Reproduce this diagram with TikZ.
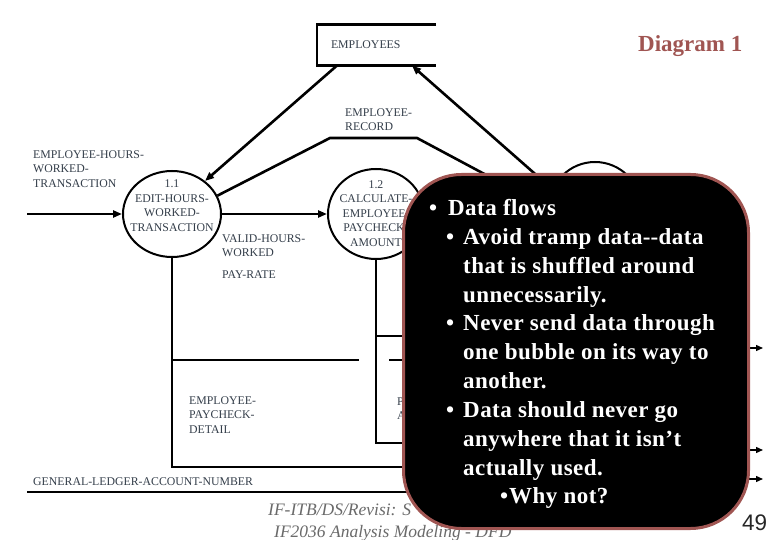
\documentclass[tikz,border=0pt]{standalone}
\usepackage{fontspec}
\setmainfont{Liberation Serif}
\newfontfamily\numfont{Liberation Sans}
\usepackage{tikz}
\usetikzlibrary{arrows.meta,shapes.geometric,calc}
\definecolor{inkx}{HTML}{343E4A}
\definecolor{rustx}{HTML}{A05552}
\definecolor{footx}{HTML}{6A6A6A}
\newcommand{\blt}[1]{\makebox[#1pt][l]{\textbullet}}

\begin{document}
\begin{tikzpicture}[x=1pt, y=-1pt,
  bub/.style={draw, ellipse, line width=2pt, inner sep=0pt},
  lbl/.style={font=\fontsize{11.8}{14.5}\selectfont, text=inkx, align=left, inner sep=0pt, anchor=north west},
  ctr/.style={lbl, align=center, anchor=north},
  flow/.style={line width=2.6pt},
  thinflow/.style={line width=2pt},
  arr/.style={-{Triangle[length=9pt,width=7pt]}},
  note/.style={fill=black, draw=rustx, line width=3pt, rounded corners=58pt, inner sep=0pt},
  notetxt/.style={font=\fontsize{23}{29}\selectfont\bfseries\addfontfeature{LetterSpace=2}, text=white, inner sep=0pt, anchor=base west}]
\useasboundingbox[fill=white] (0,0) rectangle (780,540);
% store and bubbles
\node[minimum width=119pt, minimum height=41pt, inner sep=0pt] (emp) at (376.5,45) {};
\draw[flow] (emp.north east) -- (emp.north west) -- (emp.south west) -- (emp.south east);
\node[lbl, anchor=west] (empt) at ([xshift=14pt]emp.west) {EMPLOYEES};
\node[bub, minimum width=98pt, minimum height=86pt] (p11) at (172,214) {};
\node[bub, minimum width=96pt, minimum height=90pt] (p12) at (376,214) {};
\node[bub, minimum size=92pt] (p13) at (595,208) {};
\node[ctr] (p11t) at (172,180) {1.1\\EDIT-HOURS-\\WORKED-\\TRANSACTION};
\node[ctr] (p12t) at (376,180) {1.2\\CALCULATE-\\EMPLOYEE-\\PAYCHECK-\\AMOUNT};
% flows
\coordinate (src) at (27,214);
\draw[flow, arr] (src) -- (p11.west);
\draw[flow, arr] (p11.east) -- (p12.west);
\draw[flow, arr] ([xshift=20pt]emp.south west) -- (p11.45);
\draw[flow, arr] (p13.156) -- ([xshift=35.5pt]emp.south);
\coordinate (r1) at (330,138); \coordinate (r2) at (417,138);
\draw[flow] (p11.22) -- (r1) -- (r2) -- (p13.west);
% stems down to the lower flows
\coordinate (d1) at (415,467); \coordinate (d2) at (415,360);
\coordinate (h1) at (359,360); \coordinate (h2) at (389,360);
\coordinate (d3) at (415,443); \coordinate (d4) at (415,336);
\draw[flow] (p11.south) |- (d1);
\draw[thinflow] (p11.south |- h1) -- (h1); \draw[thinflow] (h2) -- (d2);
\draw[flow] (p12.south) |- (d3);
\draw[thinflow] (p12.south |- d4) -- (d4);
\coordinate (gl1) at (27,492); \coordinate (gl2) at (415,492);
\draw[flow] (gl1) -- (gl2);
\foreach \yy [count=\k] in {348,450,479} {
  \coordinate (o\k) at (740,\yy); \coordinate (e\k) at (763,\yy);
  \draw[line width=1.4pt, -{Triangle[length=7pt,width=6pt]}] (o\k) -- (e\k);
}
% labels
\node[lbl] (inlbl) at (33,150) {EMPLOYEE-HOURS-\\WORKED-\\TRANSACTION};
\node[lbl] (vhw) at (222,234) {VALID-HOURS-\\WORKED};
\node[lbl] (pr) at (222,271) {PAY-RATE};
\node[lbl] (rec) at (345,108) {EMPLOYEE-\\RECORD};
\node[lbl] (epd) at (189,396) {EMPLOYEE-\\PAYCHECK-\\DETAIL};
\node[lbl] (pam) at (397,397) {PAYCHECK-\\AMOUNT};
\node[lbl] (gla) at (33,477) {GENERAL-LEDGER-ACCOUNT-NUMBER};
\node[font=\fontsize{23}{28}\selectfont\bfseries, text=rustx, anchor=base west, inner sep=0pt] (ttl) at (638,52) {Diagram 1};
\node[font=\fontsize{17.5}{22}\selectfont\itshape, text=footx, anchor=base west, inner sep=0pt] (ft1) at (268,515) {IF-ITB/DS/Revisi: S};
\node[font=\fontsize{17.5}{22}\selectfont\itshape, text=footx, anchor=base west, inner sep=0pt] (ft2) at (274,537) {IF2036 Analysis Modeling - DFD};
% the note on top
\node[note, minimum width=345pt, minimum height=354pt] (note) at (576,351.5) {};
\foreach \dx/\txt [count=\i from 0] in {
  0/{\blt{19}Data flows},
  17/{\blt{17}Avoid tramp data-\kern0pt-data},
  34/{that is shuffled around},
  34/{unnecessarily.},
  17/{\blt{17}Never send data through},
  34/{one bubble on its way to},
  34/{another.},
  17/{\blt{17}Data should never go},
  34/{anywhere that it isn’t},
  34/{actually used.},
  71/{\blt{9}Why not?}}
  \node[notetxt] (tip\i) at (429+\dx, 215.8+28.8*\i) {\txt};
\node[font=\fontsize{22.5}{27}\selectfont\numfont, text=black!85, anchor=base west, inner sep=0pt] (pgno) at (742,530) {49};
\end{tikzpicture}
\end{document}
